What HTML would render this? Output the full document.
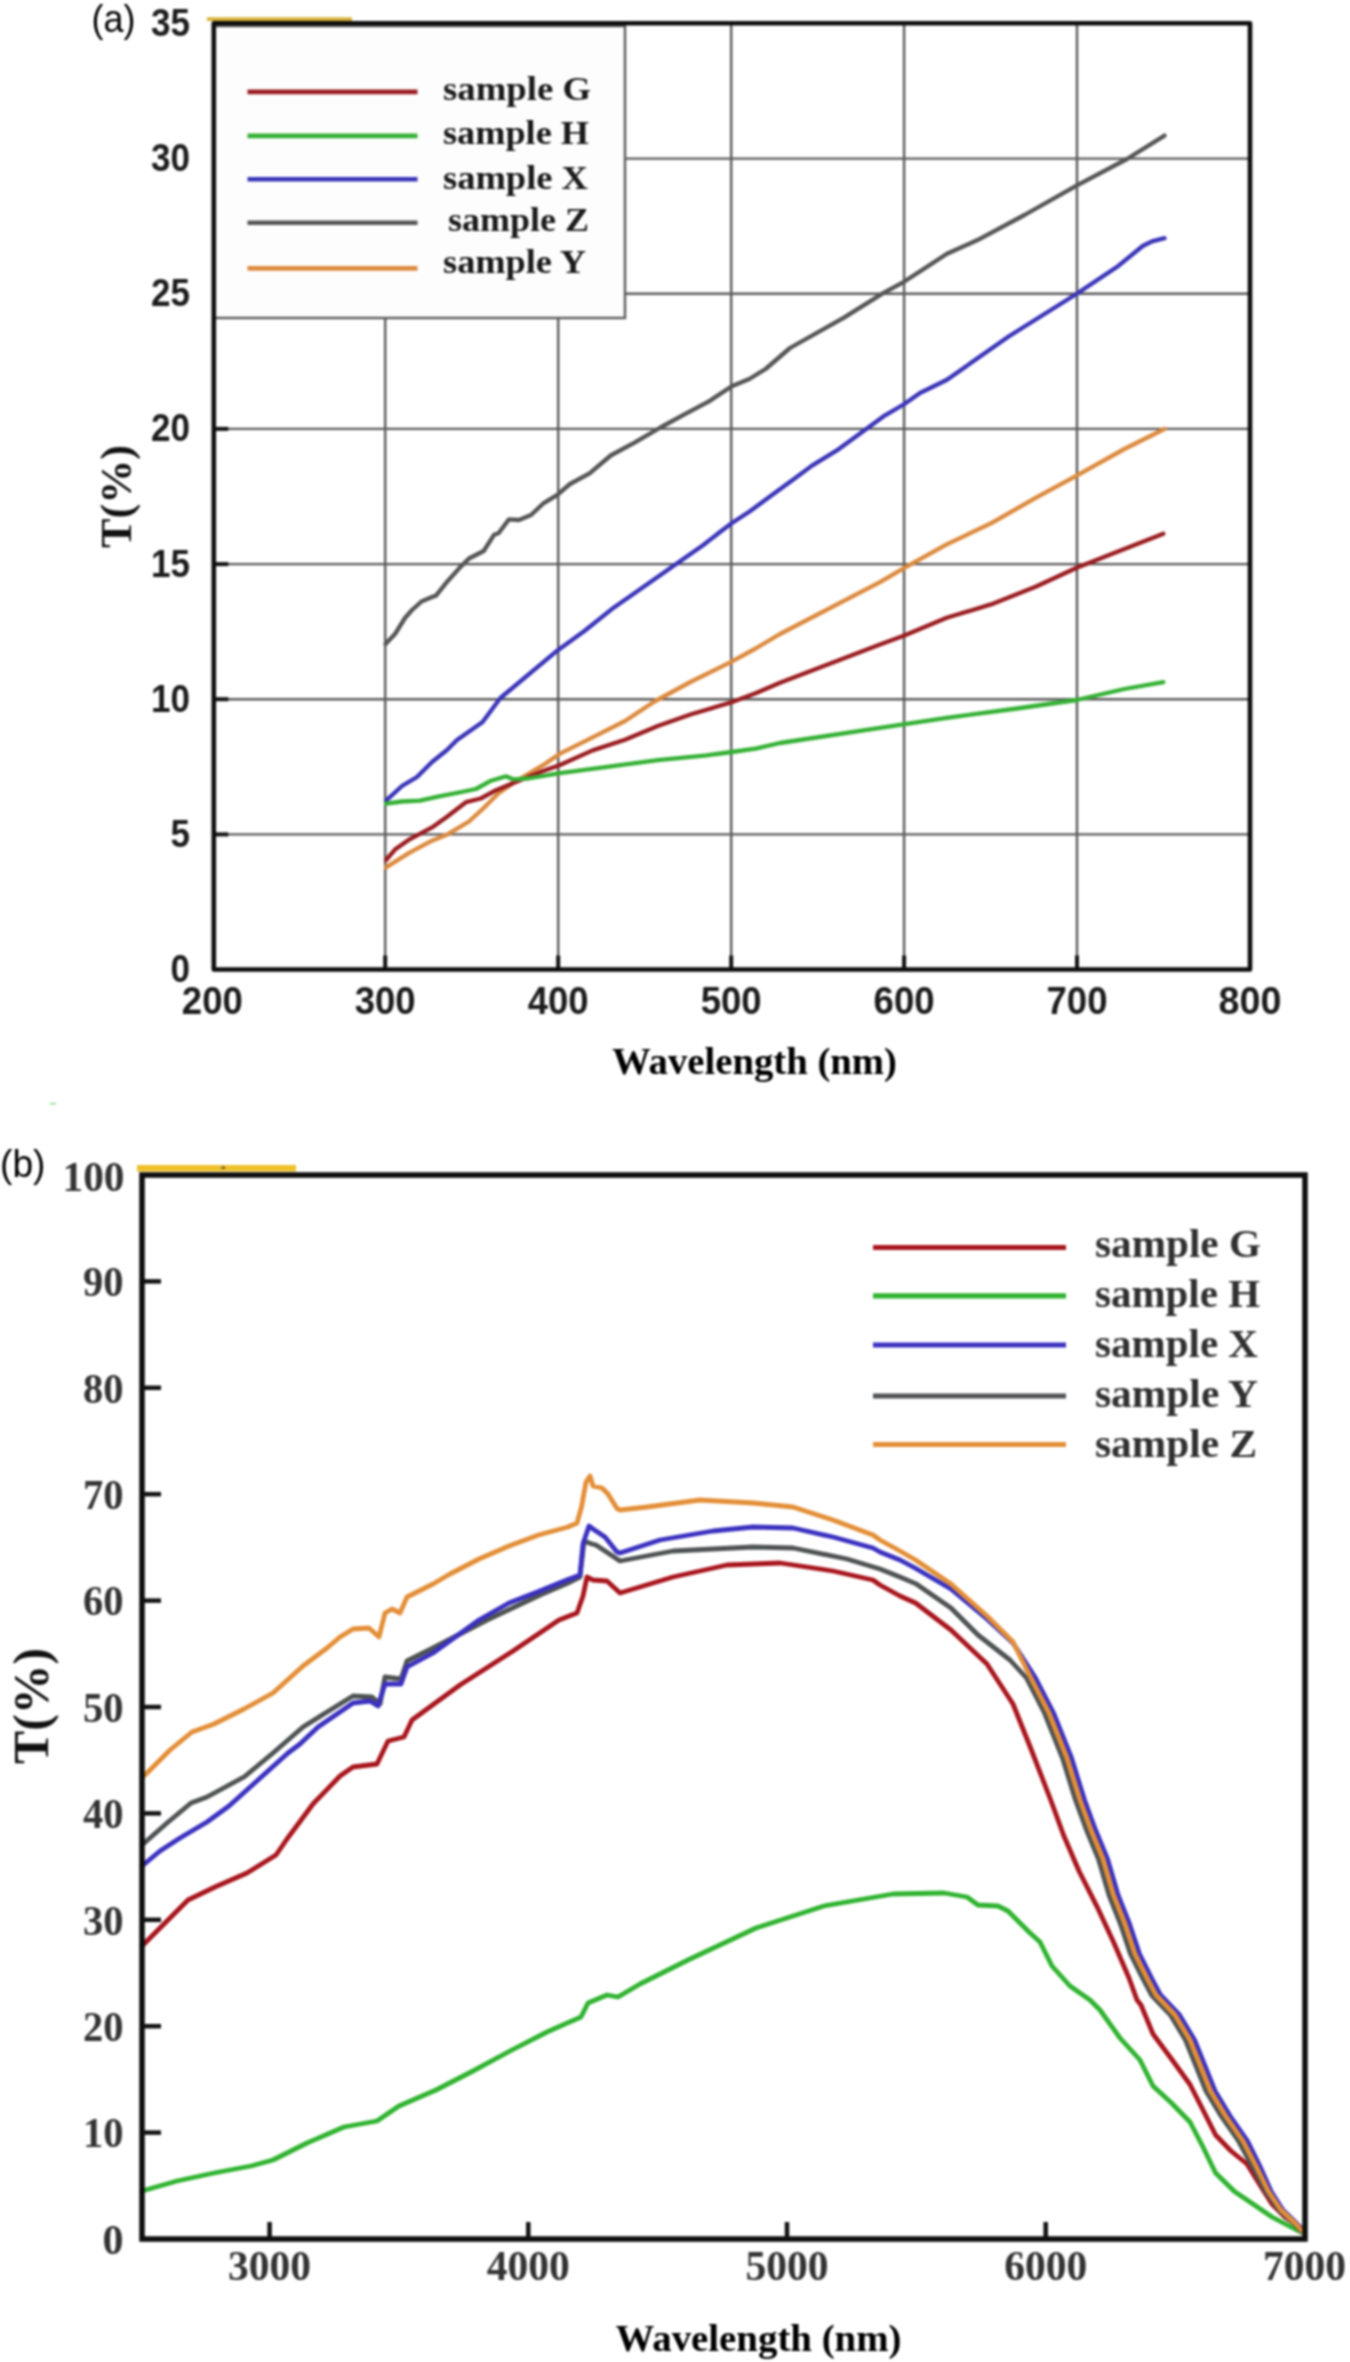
<!DOCTYPE html>
<html><head><meta charset="utf-8"><title>Transmittance charts</title>
<style>html,body{margin:0;padding:0;background:#fff;} svg{display:block;}</style>
</head><body>
<svg width="1350" height="2362" viewBox="0 0 1350 2362"><defs><filter id="soft" x="0" y="0" width="1" height="1" color-interpolation-filters="sRGB"><feGaussianBlur stdDeviation="0.9"/></filter></defs><rect width="1350" height="2362" fill="#ffffff"/><g filter="url(#soft)"><line x1="385.2" y1="23.5" x2="385.2" y2="969.5" stroke="#5a5a5a" stroke-width="2.4"/><line x1="558.2" y1="23.5" x2="558.2" y2="969.5" stroke="#5a5a5a" stroke-width="2.4"/><line x1="731.2" y1="23.5" x2="731.2" y2="969.5" stroke="#5a5a5a" stroke-width="2.4"/><line x1="904.1" y1="23.5" x2="904.1" y2="969.5" stroke="#5a5a5a" stroke-width="2.4"/><line x1="1077.0" y1="23.5" x2="1077.0" y2="969.5" stroke="#5a5a5a" stroke-width="2.4"/><line x1="212.3" y1="834.4" x2="1250" y2="834.4" stroke="#5a5a5a" stroke-width="2.4"/><line x1="212.3" y1="699.2" x2="1250" y2="699.2" stroke="#5a5a5a" stroke-width="2.4"/><line x1="212.3" y1="564.1" x2="1250" y2="564.1" stroke="#5a5a5a" stroke-width="2.4"/><line x1="212.3" y1="428.9" x2="1250" y2="428.9" stroke="#5a5a5a" stroke-width="2.4"/><line x1="212.3" y1="293.8" x2="1250" y2="293.8" stroke="#5a5a5a" stroke-width="2.4"/><line x1="212.3" y1="158.6" x2="1250" y2="158.6" stroke="#5a5a5a" stroke-width="2.4"/><line x1="212.3" y1="834.4" x2="228.3" y2="834.4" stroke="#111" stroke-width="4"/><line x1="212.3" y1="699.2" x2="228.3" y2="699.2" stroke="#111" stroke-width="4"/><line x1="212.3" y1="564.1" x2="228.3" y2="564.1" stroke="#111" stroke-width="4"/><line x1="212.3" y1="428.9" x2="228.3" y2="428.9" stroke="#111" stroke-width="4"/><line x1="212.3" y1="293.8" x2="228.3" y2="293.8" stroke="#111" stroke-width="4"/><line x1="212.3" y1="158.6" x2="228.3" y2="158.6" stroke="#111" stroke-width="4"/><line x1="385.2" y1="969.5" x2="385.2" y2="955.5" stroke="#111" stroke-width="4"/><line x1="558.2" y1="969.5" x2="558.2" y2="955.5" stroke="#111" stroke-width="4"/><line x1="731.2" y1="969.5" x2="731.2" y2="955.5" stroke="#111" stroke-width="4"/><line x1="904.1" y1="969.5" x2="904.1" y2="955.5" stroke="#111" stroke-width="4"/><line x1="1077.0" y1="969.5" x2="1077.0" y2="955.5" stroke="#111" stroke-width="4"/><rect x="214" y="26" width="411" height="292" fill="#fdfdfd" stroke="#5a5a5a" stroke-width="2.4"/><polyline points="385.5,644 395,634 405,618 412,610 421.5,601.5 432,597 436,595.6 448,580.7 460,567.4 469,558.5 483.7,551 494,534.8 498.5,533.3 509,519.3 519,520 531,515 543,503.7 557.3,494.8 570,484 589.6,473.4 610.7,455.5 635,442.4 661.3,427 684,414.7 708.5,401.7 731.8,386.2 749.3,379 765.6,369 790,348 844,317.6 884,292.7 904,281.8 947,253.8 978,239.8 1024.5,215 1077,185.3 1127,159 1164.5,135.6" fill="none" stroke="#555555" stroke-width="4.3" stroke-linejoin="round" stroke-linecap="round"/><polyline points="386,800.7 402,786 417,777 432,762 447,750 457,740 482.6,722 500.4,698 557.5,650.4 584.4,631 614,607.4 643.7,586.7 673.3,566 703,545.2 720,532 731.6,523.3 749.6,511.5 772,495 794,479 812,465.6 838.5,449.3 868,427.8 883,416.7 904.4,404 920,393 947,379.8 1009,336.2 1076,294.2 1118,266.2 1142.7,246 1152,241.3 1164.5,238.2" fill="none" stroke="#3a34b8" stroke-width="4.3" stroke-linejoin="round" stroke-linecap="round"/><polyline points="386,867.4 409.6,852.6 432,840.7 446.7,834.8 469,821.5 483.7,808 498.5,793.3 513.3,783 543,765.2 560,753.6 592.6,737.3 625,721 654.5,701.5 690.4,682 731.6,661.6 755.6,648.5 780,634 880,582.2 904.4,567.8 946.7,544.4 991,523.3 1035.6,497.8 1076.7,475.6 1124.4,449 1164.4,429" fill="none" stroke="#dc8a3e" stroke-width="4.3" stroke-linejoin="round" stroke-linecap="round"/><polyline points="386,860 395,849.6 409.6,839.3 432,827.4 446.7,817 466,802.2 480.7,798.5 495.6,790.4 513.3,783 543,771 560,765 592.6,750.4 625,739.8 657.8,726 690.4,714.5 731.6,702.3 755.6,693.3 780,682.7 880,644.4 904.4,635.6 946.7,617.8 991,604.4 1035.6,586.7 1076.7,567.8 1124.4,549 1163.3,533.8" fill="none" stroke="#9a1c20" stroke-width="4.3" stroke-linejoin="round" stroke-linecap="round"/><polyline points="386,803.7 402,801.5 420,800.7 439,796.3 461.5,792 476,789 491,780.7 506,776.3 513,779.3 528,778.5 560,773.2 609,766.7 657.8,760.2 706.7,755.3 731.6,752 755.6,748.7 780,743 880,727.8 946.7,717.8 1013.3,709 1076.7,700 1124.4,689 1163.3,682.2" fill="none" stroke="#34b034" stroke-width="4.3" stroke-linejoin="round" stroke-linecap="round"/><rect x="213.8" y="23.3" width="1036.2" height="946.2" fill="none" stroke="#0d0d0d" stroke-width="4.6" stroke-linejoin="round"/><line x1="207" y1="19.2" x2="352" y2="19.2" stroke="#d6b23a" stroke-width="3.8"/><line x1="247.5" y1="91.9" x2="417.5" y2="91.9" stroke="#9a1c20" stroke-width="4.6"/><text x="443" y="100" font-family="Liberation Serif" font-weight="bold" font-size="32" fill="#1a1a1a" textLength="148" lengthAdjust="spacingAndGlyphs" transform="translate(0,-6.00) scale(1,1.06)">sample G</text><line x1="247.5" y1="135.9" x2="417.5" y2="135.9" stroke="#34b034" stroke-width="4.6"/><text x="443" y="144.4" font-family="Liberation Serif" font-weight="bold" font-size="32" fill="#1a1a1a" textLength="146" lengthAdjust="spacingAndGlyphs" transform="translate(0,-8.66) scale(1,1.06)">sample H</text><line x1="247.5" y1="179.3" x2="417.5" y2="179.3" stroke="#3a34b8" stroke-width="4.6"/><text x="443" y="189.5" font-family="Liberation Serif" font-weight="bold" font-size="32" fill="#1a1a1a" textLength="145" lengthAdjust="spacingAndGlyphs" transform="translate(0,-11.37) scale(1,1.06)">sample X</text><line x1="247.5" y1="222.8" x2="417.5" y2="222.8" stroke="#555555" stroke-width="4.6"/><text x="448" y="231.3" font-family="Liberation Serif" font-weight="bold" font-size="32" fill="#1a1a1a" textLength="141" lengthAdjust="spacingAndGlyphs" transform="translate(0,-13.88) scale(1,1.06)">sample Z</text><line x1="247.5" y1="268.4" x2="417.5" y2="268.4" stroke="#dc8a3e" stroke-width="4.6"/><text x="443" y="272.7" font-family="Liberation Serif" font-weight="bold" font-size="32" fill="#1a1a1a" textLength="143" lengthAdjust="spacingAndGlyphs" transform="translate(0,-16.36) scale(1,1.06)">sample Y</text><text x="190" y="982.0" text-anchor="end" font-family="Liberation Sans" font-weight="bold" font-size="38" fill="#1c1c1c" textLength="19.5" lengthAdjust="spacingAndGlyphs">0</text><text x="190" y="846.9" text-anchor="end" font-family="Liberation Sans" font-weight="bold" font-size="38" fill="#1c1c1c" textLength="19.5" lengthAdjust="spacingAndGlyphs">5</text><text x="190" y="711.7" text-anchor="end" font-family="Liberation Sans" font-weight="bold" font-size="38" fill="#1c1c1c" textLength="39" lengthAdjust="spacingAndGlyphs">10</text><text x="190" y="576.6" text-anchor="end" font-family="Liberation Sans" font-weight="bold" font-size="38" fill="#1c1c1c" textLength="39" lengthAdjust="spacingAndGlyphs">15</text><text x="190" y="441.4" text-anchor="end" font-family="Liberation Sans" font-weight="bold" font-size="38" fill="#1c1c1c" textLength="39" lengthAdjust="spacingAndGlyphs">20</text><text x="190" y="306.3" text-anchor="end" font-family="Liberation Sans" font-weight="bold" font-size="38" fill="#1c1c1c" textLength="39" lengthAdjust="spacingAndGlyphs">25</text><text x="190" y="171.1" text-anchor="end" font-family="Liberation Sans" font-weight="bold" font-size="38" fill="#1c1c1c" textLength="39" lengthAdjust="spacingAndGlyphs">30</text><text x="190" y="36.0" text-anchor="end" font-family="Liberation Sans" font-weight="bold" font-size="38" fill="#1c1c1c" textLength="39" lengthAdjust="spacingAndGlyphs">35</text><text x="212.3" y="1014" text-anchor="middle" font-family="Liberation Sans" font-weight="bold" font-size="38" fill="#1c1c1c" textLength="61" lengthAdjust="spacingAndGlyphs">200</text><text x="385.2" y="1014" text-anchor="middle" font-family="Liberation Sans" font-weight="bold" font-size="38" fill="#1c1c1c" textLength="61" lengthAdjust="spacingAndGlyphs">300</text><text x="558.2" y="1014" text-anchor="middle" font-family="Liberation Sans" font-weight="bold" font-size="38" fill="#1c1c1c" textLength="61" lengthAdjust="spacingAndGlyphs">400</text><text x="731.2" y="1014" text-anchor="middle" font-family="Liberation Sans" font-weight="bold" font-size="38" fill="#1c1c1c" textLength="61" lengthAdjust="spacingAndGlyphs">500</text><text x="904.1" y="1014" text-anchor="middle" font-family="Liberation Sans" font-weight="bold" font-size="38" fill="#1c1c1c" textLength="61" lengthAdjust="spacingAndGlyphs">600</text><text x="1077.0" y="1014" text-anchor="middle" font-family="Liberation Sans" font-weight="bold" font-size="38" fill="#1c1c1c" textLength="61" lengthAdjust="spacingAndGlyphs">700</text><text x="1250.0" y="1014" text-anchor="middle" font-family="Liberation Sans" font-weight="bold" font-size="38" fill="#1c1c1c" textLength="63" lengthAdjust="spacingAndGlyphs">800</text><text x="612" y="1074" font-family="Liberation Serif" font-weight="bold" font-size="38.5" fill="#000" textLength="285" lengthAdjust="spacingAndGlyphs">Wavelength (nm)</text><text transform="translate(131,548) rotate(-90)" font-family="Liberation Serif" font-weight="bold" font-size="45" fill="#111" textLength="103" lengthAdjust="spacingAndGlyphs">T(%)</text><text x="91.5" y="32" font-family="Liberation Sans" font-size="39" fill="#000" textLength="44" lengthAdjust="spacingAndGlyphs">(a)</text><polyline points="142,2191 177,2181 214,2173 251,2166 273,2160 307,2143 344,2127 377,2121 399,2106 436,2090 473,2071 510,2051 547,2032 581,2017 588,2003 607,1995 618,1997 640,1984 688,1960 756,1928 824,1906 893,1894 944,1893 967,1897 978,1905 998,1906 1008,1911 1029,1932 1040,1942 1052,1966 1070,1986 1090,2000 1100,2010 1120,2038 1140,2060 1153,2086 1171.5,2103 1190,2122 1203,2147 1215.6,2173 1234.5,2191.5 1253,2204 1272,2217 1291,2227 1301,2232" fill="none" stroke="#2fb32f" stroke-width="4.8" stroke-linejoin="round" stroke-linecap="round"/><polyline points="142,1946 161,1927 188,1900 215,1887 247,1873 276,1855 287,1839 313,1804 340,1776 353,1767 377,1764 388,1741 404,1737 412,1720 460,1685 513,1651 559,1620 577,1613 583,1596 587,1577 593,1580 607,1581 620,1593 673,1577 727,1565 780,1563 833,1571 873,1580 880,1585 900,1596 915.6,1603 951,1630 987,1664 1013,1704 1031,1749 1050.7,1800 1063.7,1835.5 1079,1871 1097,1906.6 1113.5,1942 1129,1978 1137,2000 1141,2005 1153,2034 1171.5,2059 1190,2084.5 1203,2110 1215.6,2135 1231,2151 1247,2164 1260,2185 1272,2204 1285,2217 1300,2227" fill="none" stroke="#a8141c" stroke-width="4.8" stroke-linejoin="round" stroke-linecap="round"/><polyline points="142,1845 167,1823 191,1803 207,1797 244,1777 273,1753 303,1727 327,1712 353,1696 372,1697 380,1704 385,1677 401,1679 407,1661 433,1648 487,1620 540,1595 568,1583 580,1577 584,1541 592,1544 596,1545 620,1561 673,1551 753,1547 793,1548 847,1559 880,1569 900,1577 915.6,1583.6 951,1608 978,1635 1010,1660 1026.5,1678 1044.5,1713 1062.5,1758 1075.5,1800 1086.5,1830 1098.5,1859 1109.0,1895 1120.5,1924 1130.5,1954 1142.5,1978 1151.5,1995 1170.5,2015 1185.5,2040 1196.0,2066 1206.0,2091 1221.1,2116 1238.5,2141 1252.22,2166 1265.8675,2191.5 1279.2,2210 1293.785,2223 1302.1,2232" fill="none" stroke="#4e5252" stroke-width="4.8" stroke-linejoin="round" stroke-linecap="round"/><polyline points="142,1866 160,1851 180,1838 207,1822 229,1806 258,1780 288,1753 300,1744 318,1727 340,1712 353,1703 370,1701 378,1706 385,1684 401,1684 407,1667 433,1653 479,1620 509,1603 538.5,1591.5 568,1579.6 580,1575 583,1544 589,1526 593,1529 605,1537 617,1552 620,1553 660,1540 713,1531 753,1527 793,1528 833,1537 873,1548 880,1552 900,1560 915,1568 951,1589 987,1619 1013,1643 1035.5,1678 1053.5,1713 1071.5,1758 1084.5,1800 1095.5,1830 1107.5,1859 1118.0,1895 1129.5,1924 1139.5,1954 1151.5,1978 1160.5,1995 1179.5,2015 1194.5,2040 1205.0,2066 1215.0,2091 1230.1,2116 1247.5,2141 1259.78,2166 1271.1325,2191.5 1282.8,2210 1296.215,2223 1303.9,2232" fill="none" stroke="#3a30c0" stroke-width="4.8" stroke-linejoin="round" stroke-linecap="round"/><polyline points="142,1777 146,1774 170,1750 192,1732 214,1724 244,1709 273,1693 303,1666 327,1648 340,1637 353,1629 369,1628 379,1637 385,1613 392,1609 400,1613 407,1597 433,1584 450,1574 479,1559 509,1546 538.5,1535 568,1527 577,1523 581.5,1507 586,1482 590,1476 593,1486 602,1488 608,1494 617,1508.5 620,1510 647,1507 700,1500 753,1503 793,1507 833,1520 873,1535 880,1540 900,1551 915.6,1560 951,1584 987,1616 1013,1642 1031,1678 1049,1713 1067,1758 1080,1800 1091,1830 1103,1859 1113.5,1895 1125,1924 1135,1954 1147,1978 1156,1995 1175,2015 1190,2040 1200.5,2066 1210.5,2091 1225.6,2116 1243,2141 1256,2166 1268.5,2191.5 1281,2210 1295,2223 1303,2232" fill="none" stroke="#e38e36" stroke-width="4.8" stroke-linejoin="round" stroke-linecap="round"/><rect x="142" y="1175" width="1163" height="1064" fill="none" stroke="#0d0d0d" stroke-width="5.5"/><line x1="137" y1="1168.2" x2="296" y2="1168.2" stroke="#efc028" stroke-width="6.5"/><line x1="142" y1="2132.6" x2="161" y2="2132.6" stroke="#111" stroke-width="4.5"/><line x1="142" y1="2026.2" x2="161" y2="2026.2" stroke="#111" stroke-width="4.5"/><line x1="142" y1="1919.8" x2="161" y2="1919.8" stroke="#111" stroke-width="4.5"/><line x1="142" y1="1813.4" x2="161" y2="1813.4" stroke="#111" stroke-width="4.5"/><line x1="142" y1="1707.0" x2="161" y2="1707.0" stroke="#111" stroke-width="4.5"/><line x1="142" y1="1600.6" x2="161" y2="1600.6" stroke="#111" stroke-width="4.5"/><line x1="142" y1="1494.2" x2="161" y2="1494.2" stroke="#111" stroke-width="4.5"/><line x1="142" y1="1387.8" x2="161" y2="1387.8" stroke="#111" stroke-width="4.5"/><line x1="142" y1="1281.4" x2="161" y2="1281.4" stroke="#111" stroke-width="4.5"/><line x1="269.6" y1="2239" x2="269.6" y2="2222" stroke="#111" stroke-width="4.5"/><line x1="528.3" y1="2239" x2="528.3" y2="2222" stroke="#111" stroke-width="4.5"/><line x1="787.0" y1="2239" x2="787.0" y2="2222" stroke="#111" stroke-width="4.5"/><line x1="1045.7" y1="2239" x2="1045.7" y2="2222" stroke="#111" stroke-width="4.5"/><line x1="873" y1="1247.5" x2="1066" y2="1247.5" stroke="#a8141c" stroke-width="5.2"/><text x="1095" y="1256.7" font-family="Liberation Serif" font-weight="bold" font-size="37" fill="#303030" textLength="166" lengthAdjust="spacingAndGlyphs" transform="translate(0,-100.54) scale(1,1.08)">sample G</text><line x1="873" y1="1295.8" x2="1066" y2="1295.8" stroke="#2fb32f" stroke-width="5.2"/><text x="1095" y="1307.3" font-family="Liberation Serif" font-weight="bold" font-size="37" fill="#303030" textLength="165" lengthAdjust="spacingAndGlyphs" transform="translate(0,-104.58) scale(1,1.08)">sample H</text><line x1="873" y1="1345" x2="1066" y2="1345" stroke="#3a30c0" stroke-width="5.2"/><text x="1095" y="1356.7" font-family="Liberation Serif" font-weight="bold" font-size="37" fill="#303030" textLength="163" lengthAdjust="spacingAndGlyphs" transform="translate(0,-108.54) scale(1,1.08)">sample X</text><line x1="873" y1="1396" x2="1066" y2="1396" stroke="#4e5252" stroke-width="5.2"/><text x="1095" y="1406.7" font-family="Liberation Serif" font-weight="bold" font-size="37" fill="#303030" textLength="163" lengthAdjust="spacingAndGlyphs" transform="translate(0,-112.54) scale(1,1.08)">sample Y</text><line x1="873" y1="1444.5" x2="1066" y2="1444.5" stroke="#e38e36" stroke-width="5.2"/><text x="1095" y="1457.3" font-family="Liberation Serif" font-weight="bold" font-size="37" fill="#303030" textLength="162" lengthAdjust="spacingAndGlyphs" transform="translate(0,-116.58) scale(1,1.08)">sample Z</text><text x="123.5" y="2253.8" text-anchor="end" font-family="Liberation Serif" font-weight="bold" font-size="42" fill="#333" textLength="21" lengthAdjust="spacingAndGlyphs">0</text><text x="123.5" y="2147.4" text-anchor="end" font-family="Liberation Serif" font-weight="bold" font-size="42" fill="#333" textLength="40.5" lengthAdjust="spacingAndGlyphs">10</text><text x="123.5" y="2041.0" text-anchor="end" font-family="Liberation Serif" font-weight="bold" font-size="42" fill="#333" textLength="40.5" lengthAdjust="spacingAndGlyphs">20</text><text x="123.5" y="1934.6" text-anchor="end" font-family="Liberation Serif" font-weight="bold" font-size="42" fill="#333" textLength="40.5" lengthAdjust="spacingAndGlyphs">30</text><text x="123.5" y="1828.2" text-anchor="end" font-family="Liberation Serif" font-weight="bold" font-size="42" fill="#333" textLength="40.5" lengthAdjust="spacingAndGlyphs">40</text><text x="123.5" y="1721.8" text-anchor="end" font-family="Liberation Serif" font-weight="bold" font-size="42" fill="#333" textLength="40.5" lengthAdjust="spacingAndGlyphs">50</text><text x="123.5" y="1615.4" text-anchor="end" font-family="Liberation Serif" font-weight="bold" font-size="42" fill="#333" textLength="40.5" lengthAdjust="spacingAndGlyphs">60</text><text x="123.5" y="1509.0" text-anchor="end" font-family="Liberation Serif" font-weight="bold" font-size="42" fill="#333" textLength="40.5" lengthAdjust="spacingAndGlyphs">70</text><text x="123.5" y="1402.6" text-anchor="end" font-family="Liberation Serif" font-weight="bold" font-size="42" fill="#333" textLength="40.5" lengthAdjust="spacingAndGlyphs">80</text><text x="123.5" y="1296.2" text-anchor="end" font-family="Liberation Serif" font-weight="bold" font-size="42" fill="#333" textLength="40.5" lengthAdjust="spacingAndGlyphs">90</text><text x="124.5" y="1191.0" text-anchor="end" font-family="Liberation Serif" font-weight="bold" font-size="42" fill="#333" textLength="62" lengthAdjust="spacingAndGlyphs">100</text><text x="269.6" y="2280" text-anchor="middle" font-family="Liberation Serif" font-weight="bold" font-size="42" fill="#333" textLength="83" lengthAdjust="spacingAndGlyphs">3000</text><text x="528.3" y="2280" text-anchor="middle" font-family="Liberation Serif" font-weight="bold" font-size="42" fill="#333" textLength="83" lengthAdjust="spacingAndGlyphs">4000</text><text x="787.0" y="2280" text-anchor="middle" font-family="Liberation Serif" font-weight="bold" font-size="42" fill="#333" textLength="83" lengthAdjust="spacingAndGlyphs">5000</text><text x="1045.7" y="2280" text-anchor="middle" font-family="Liberation Serif" font-weight="bold" font-size="42" fill="#333" textLength="83" lengthAdjust="spacingAndGlyphs">6000</text><text x="1304.4" y="2280" text-anchor="middle" font-family="Liberation Serif" font-weight="bold" font-size="42" fill="#333" textLength="83" lengthAdjust="spacingAndGlyphs">7000</text><text x="615.5" y="2351.3" font-family="Liberation Serif" font-weight="bold" font-size="38.5" fill="#000" textLength="286" lengthAdjust="spacingAndGlyphs">Wavelength (nm)</text><text transform="translate(48,1764) rotate(-90)" font-family="Liberation Serif" font-weight="bold" font-size="50" fill="#111" textLength="116" lengthAdjust="spacingAndGlyphs">T(%)</text><text x="0" y="1177" font-family="Liberation Sans" font-size="38" fill="#000" textLength="45.5" lengthAdjust="spacingAndGlyphs">(b)</text><line x1="50" y1="1103.7" x2="56" y2="1103.7" stroke="#4c4" stroke-width="1"/><rect x="221.5" y="1166.5" width="3.5" height="2.5" fill="#6a5a30"/></g></svg>
</body></html>
